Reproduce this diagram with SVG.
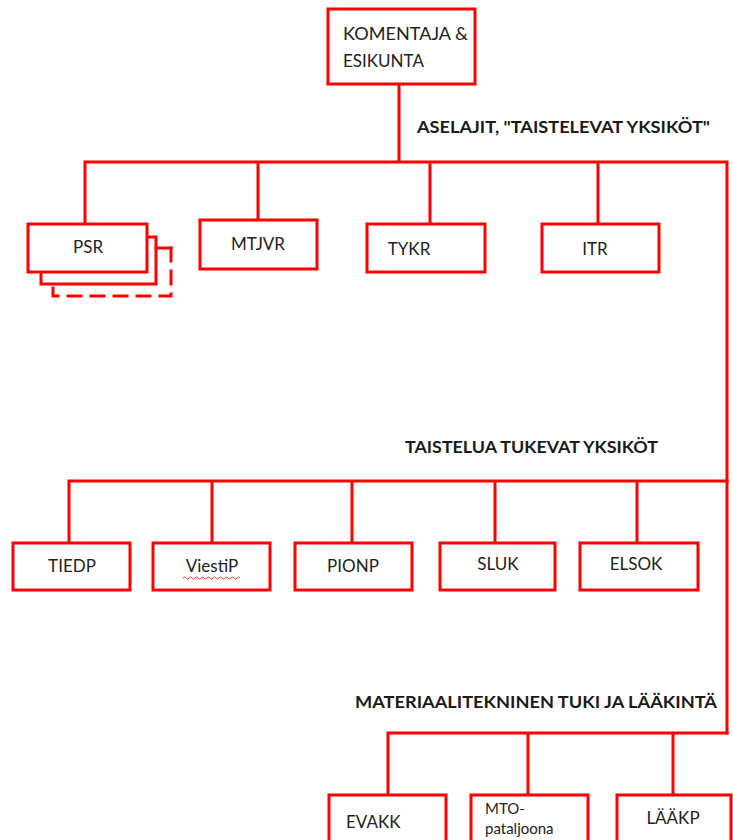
<svg xmlns="http://www.w3.org/2000/svg" width="733" height="840" viewBox="0 0 733 840">
  <style>
    .box { fill: #ffffff; stroke: #ff0000; stroke-width: 3; }
    .wire { fill: none; stroke: #ff0000; stroke-width: 3; stroke-linecap: square; }
    .label { font-family: Lato, "Liberation Sans", sans-serif; font-size: 17px; fill: #222222; }
    .head { font-family: Lato, "Liberation Sans", sans-serif; font-size: 17px; font-weight: bold; fill: #1a1a1a; }
    .small { font-size: 15px; }
  </style>
  <rect width="733" height="840" fill="#ffffff"/>

  <!-- connectors -->
  <g id="connectors" class="wire">
    <path d="M399 85 V162 M85 162 H727 V733 M85 162 V224 M258 162 V220 M430 162 V224 M598 162 V224"/>
    <path d="M69 481 H727 M69 481 V543 M212 481 V543 M352 481 V543 M495 481 V543 M637 481 V543"/>
    <path d="M388 733 H727 M388 733 V795 M528 733 V795 M673 733 V795"/>
  </g>

  <!-- section headings -->
  <text class="head" x="417" y="133" textLength="293" lengthAdjust="spacingAndGlyphs">ASELAJIT, "TAISTELEVAT YKSIKÖT"</text>
  <text class="head" x="405" y="453" textLength="253" lengthAdjust="spacingAndGlyphs">TAISTELUA TUKEVAT YKSIKÖT</text>
  <text class="head" x="355" y="708" textLength="362" lengthAdjust="spacingAndGlyphs">MATERIAALITEKNINEN TUKI JA LÄÄKINTÄ</text>

  <g id="komentaja">
    <rect class="box" x="328" y="9" width="147" height="75"/>
    <text class="label" x="343" y="40" font-size="18" textLength="125" lengthAdjust="spacingAndGlyphs">KOMENTAJA &amp;</text>
    <text class="label" x="343" y="67" font-size="18">ESIKUNTA</text>
  </g>

  <g id="psr">
    <path class="wire" d="M156 248 H171"/>
    <path class="wire" d="M171 248 V296 H53 V284" stroke-dasharray="13 10"/>
    <path class="wire" d="M147 237 H156 V284 H41 V272"/>
    <rect class="box" x="28" y="224" width="119" height="48"/>
    <text class="label" x="88" y="253" text-anchor="middle">PSR</text>
  </g>
  <g id="mtjvr">
    <rect class="box" x="200" y="220" width="117" height="49"/>
    <text class="label" x="258" y="250" text-anchor="middle">MTJVR</text>
  </g>
  <g id="tykr">
    <rect class="box" x="367" y="224" width="118" height="48"/>
    <text class="label" x="409" y="255" text-anchor="middle">TYKR</text>
  </g>
  <g id="itr">
    <rect class="box" x="542" y="224" width="117" height="48"/>
    <text class="label" x="595" y="255" text-anchor="middle">ITR</text>
  </g>

  <g id="tiedp">
    <rect class="box" x="13" y="543" width="117" height="47"/>
    <text class="label" x="72" y="572" text-anchor="middle">TIEDP</text>
  </g>
  <g id="viestip">
    <rect class="box" x="153" y="543" width="117" height="47"/>
    <text class="label" x="212" y="572" text-anchor="middle">ViestiP</text>
    <path d="M183 578 q1.5 -2 3 0 t3 0 t3 0 t3 0 t3 0 t3 0 t3 0 t3 0 t3 0 t3 0 t3 0 t3 0 t3 0 t3 0 t3 0 t3 0 t3 0 t3 0 t3 0" fill="none" stroke="#e04040" stroke-width="1"/>
  </g>
  <g id="pionp">
    <rect class="box" x="295" y="543" width="117" height="47"/>
    <text class="label" x="353" y="572" text-anchor="middle">PIONP</text>
  </g>
  <g id="sluk">
    <rect class="box" x="440" y="543" width="115" height="47"/>
    <text class="label" x="498" y="570" text-anchor="middle">SLUK</text>
  </g>
  <g id="elsok">
    <rect class="box" x="580" y="543" width="118" height="47"/>
    <text class="label" x="636" y="570" text-anchor="middle">ELSOK</text>
  </g>

  <g id="evakk">
    <rect class="box" x="329" y="795" width="117" height="60"/>
    <text class="label" x="346" y="828">EVAKK</text>
  </g>
  <g id="mto">
    <rect class="box" x="471" y="795" width="117" height="60"/>
    <text class="label small" x="485" y="814">MTO-</text>
    <text class="label small" x="485" y="834">pataljoona</text>
  </g>
  <g id="laakp">
    <rect class="box" x="617" y="795" width="114" height="60"/>
    <text class="label" x="673" y="824" text-anchor="middle">LÄÄKP</text>
  </g>
</svg>
